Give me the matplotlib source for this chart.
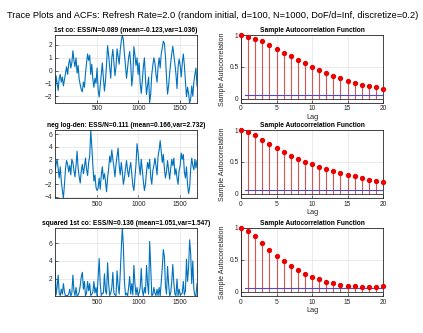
import numpy as np
import matplotlib
matplotlib.use("Agg")
import matplotlib.pyplot as plt

plt.rcParams['font.family'] = ['Liberation Sans', 'DejaVu Sans']

suptitle = "Trace Plots and ACFs: Refresh Rate=2.0 (random initial, d=100, N=1000, DoF/d=Inf, discretize=0.2)"
trace_titles = ["1st co: ESS/N=0.089 (mean=-0.123,var=1.036)",
                "neg log-den: ESS/N=0.111 (mean=0.166,var=2.732)",
                "squared 1st co: ESS/N=0.136 (mean=1.051,var=1.547)"]
acf_title = "Sample Autocorrelation Function"
n_iter = 1700

first_co = [
    -2.0, -0.4, -1.0, -1.55, -0.6, -0.3, -0.9, -0.5,
    -1.2, -0.7, -0.2, 0.3, -0.3, 0.5, 0.9, 0.2,
    0.6, 1.55, 0.8, 0.3, 1.0, -0.2, 0.4, -0.7,
    -1.1, -1.5, -1.65, -0.9, -1.3, -0.2, 0.6, 1.3,
    0.8, 1.2, -0.3, 0.5, -0.7, -1.3, -0.6, -1.0,
    0.2, -1.5, -2.07, -1.2, -0.3, 0.6, -0.6, -1.6,
    -0.8, 0.5, 1.95, 1.2, 0.3, -0.6, 1.0, 1.65,
    0.6, -0.4, 0.3, 1.7, 1.1, 0.5, 1.6, 2.3,
    2.78, 2.4, 1.3, 0.4, -0.6, 0.2, 1.0, 1.5,
    0.5, -1.2, -0.4, 1.87, 1.2, 0.4, 1.0, -0.3,
    0.6, -1.0, -1.78, -0.8, 0.3, 1.0, -0.6, -1.87,
    -1.2, -0.5, -2.49, -1.82, -0.3, 0.4, 1.0, 0.6,
    -0.3, -0.9, 0.3, 1.0, 0.2, 1.3, 1.8, 2.3,
    2.12, 1.1, -0.5, -1.84, -1.2, -0.2, 0.6, 1.3,
    1.9, 1.2, 0.5, -0.3, -1.4, 0.3, 0.9, 0.4,
    -0.5, 0.6, 1.3, 0.4, -0.8, -2.05, -1.3, -1.8,
    -2.53, -2.2, -1.2, -2.0, -0.9, -0.3, 0.2, -1.2,
]

neg_log_den = [
    0.0, 1.2, 2.0, 0.5, -1.0, 0.8, -1.5, -3.0,
    -4.2, -2.0, 0.5, 1.8, 1.2, 0.0, 1.0, -0.5,
    2.0, 1.5, 0.2, -0.8, 1.0, 3.3, 0.5, -0.8,
    -1.8, 0.2, 1.2, -0.3, 0.8, 2.2, 0.4, -0.6,
    1.5, 2.5, 6.7, 4.0, 1.0, -1.5, -0.5, -2.5,
    -3.0, -2.6, -1.0, -2.8, -0.5, 0.8, -1.2, -0.3,
    -1.5, -3.2, -1.0, 0.5, 2.5, 1.5, 3.5, 2.0,
    0.8, -0.8, 1.2, 2.5, 3.8, 1.0, -0.5, 1.5,
    0.0, -2.0, -1.0, 0.5, 1.8, 0.2, -0.8, 0.6,
    1.5, -0.3, -2.2, -3.0, -1.0, 1.2, 4.5, 3.0,
    1.0, -0.5, 2.0, 0.2, -1.5, -3.0, -2.0, 0.0,
    1.5, 0.5, 2.0, -0.8, -2.0, 0.2, 1.0, 2.2,
    1.0, -0.5, 2.5, 3.5, 5.0, 3.2, 1.5, 2.8,
    0.5, -1.0, 0.0, 1.8, 0.3, -1.2, 0.5, 2.0,
    1.0, 2.2, -0.5, 0.5, -1.0, -2.0, 0.2, 1.0,
    3.0, 2.0, 2.8, 0.0, -1.0, 0.8, -2.0, -3.5,
    -2.5, 0.5, 2.2, 1.0, 0.3, 2.0, 0.6, 1.8,
]

sq_first_co = [
    4.0, 0.16, 1.0, 2.4, 0.36, 0.09, 0.81, 0.25,
    1.44, 0.49, 0.04, 0.09, 0.09, 0.25, 0.81, 0.04,
    0.36, 2.4, 0.64, 0.09, 1.0, 0.04, 0.16, 0.49,
    1.21, 2.25, 2.72, 0.81, 1.69, 0.04, 0.36, 1.69,
    0.64, 1.44, 0.09, 0.25, 0.49, 1.69, 0.36, 1.0,
    0.04, 2.25, 4.28, 1.44, 0.09, 0.36, 0.36, 2.56,
    0.64, 0.25, 3.8, 1.44, 0.09, 0.36, 1.0, 2.72,
    0.36, 0.16, 0.09, 2.89, 1.21, 0.25, 2.56, 5.29,
    7.73, 5.76, 1.69, 0.16, 0.36, 0.04, 1.0, 2.25,
    0.25, 1.44, 0.16, 3.5, 1.44, 0.16, 1.0, 0.09,
    0.36, 1.0, 3.17, 0.64, 0.09, 1.0, 0.36, 3.5,
    1.44, 0.25, 6.2, 3.31, 0.09, 0.16, 1.0, 0.36,
    0.09, 0.81, 0.09, 1.0, 0.04, 1.69, 3.24, 5.29,
    4.49, 1.21, 0.25, 3.39, 1.44, 0.04, 0.36, 1.69,
    3.61, 1.44, 0.25, 0.09, 1.96, 0.09, 0.81, 0.16,
    0.25, 0.36, 1.69, 0.16, 0.64, 4.2, 1.69, 3.24,
    6.4, 4.84, 1.44, 4.0, 0.81, 0.09, 0.04, 1.44,
]

lags = list(range(21))
acf_first_co = [1.0, 0.974, 0.94, 0.90, 0.84, 0.786, 0.72, 0.67, 0.61, 0.556, 0.50,
                0.454, 0.40, 0.357, 0.32, 0.28, 0.25, 0.22, 0.20, 0.18, 0.158]
acf_neg_log_den = [1.0, 0.974, 0.92, 0.85, 0.786, 0.714, 0.653, 0.597, 0.546, 0.50, 0.46,
                   0.423, 0.388, 0.357, 0.33, 0.30, 0.275, 0.25, 0.224, 0.204, 0.184]
acf_sq_first_co = [1.0, 0.96, 0.867, 0.76, 0.658, 0.56, 0.48, 0.403, 0.342, 0.286, 0.23,
                   0.194, 0.158, 0.133, 0.112, 0.097, 0.087, 0.082, 0.077, 0.077, 0.087]
conf_bound = 0.0632

trace_yticks = [[-2, -1, 0, 1, 2], [-4, -2, 0, 2, 4, 6], [2, 4, 6]]
trace_xticks = [500, 1000, 1500]
acf_xticks = [0, 5, 10, 15, 20]
acf_yticks = [0, 0.5, 1]

traces = [first_co, neg_log_den, sq_first_co]
acfs = [acf_first_co, acf_neg_log_den, acf_sq_first_co]

W, H = 423, 333
fig = plt.figure(figsize=(W / 100, H / 100), dpi=100)
fig.patch.set_facecolor('white')

axc = '#262626'
gridc = '#e3e3e3'
tick_fs = 4.8
blue = '#0072BD'

tops = [35, 130, 228]
ah = 68
lx, rx, aw = 55, 241, 142


def style(ax):
    ax.tick_params(direction='in', length=2, width=0.5, labelsize=tick_fs,
                   colors=axc, pad=1.8, top=False, right=False)
    for s in ax.spines.values():
        s.set_linewidth(0.6)
        s.set_color(axc)
    ax.grid(True, color=gridc, linewidth=0.5)
    ax.set_axisbelow(True)


for i in range(3):
    y0 = 1 - (tops[i] + ah) / H
    axL = fig.add_axes([lx / W, y0, aw / W, ah / H])
    vals = np.array(traces[i])
    x = np.linspace(1, n_iter, len(vals))
    axL.plot(x, vals, color=blue, linewidth=0.8)
    axL.set_xlim(1, n_iter)
    axL.set_ylim(vals.min(), vals.max())
    axL.set_xticks(trace_xticks)
    axL.set_yticks(trace_yticks[i])
    style(axL)
    axL.set_title(trace_titles[i], fontsize=4.75, fontweight='bold', pad=2)

    axR = fig.add_axes([rx / W, y0, aw / W, ah / H])
    a = acfs[i]
    axR.vlines(lags, 0, a, color='#d9534f', linewidth=0.8)
    axR.plot(lags, a, 'o', color='#ee0000', markersize=2.8, clip_on=False, zorder=5)
    axR.plot([0, 20], [0, 0], color='#333333', linewidth=0.6)
    axR.plot([0.5, 20], [conf_bound, conf_bound], color='#4b4bd0', linewidth=0.8)
    axR.plot([0.5, 20], [-conf_bound, -conf_bound], color='#4b4bd0', linewidth=0.8)
    axR.set_xlim(0, 20)
    axR.set_ylim(-0.066, 1.0)
    axR.set_xticks(acf_xticks)
    axR.set_yticks(acf_yticks)
    axR.set_yticklabels(['0', '0.5', '1'])
    style(axR)
    axR.set_title(acf_title, fontsize=4.75, fontweight='bold', pad=2)
    axR.set_xlabel('Lag', fontsize=5.3, color=axc, labelpad=1)
    axR.set_ylabel('Sample Autocorrelation', fontsize=5.1, color=axc, labelpad=2)

fig.text(0.503, 1 - 15 / H, suptitle, ha='center', va='center', fontsize=6.7, color='black')

fig.savefig('out.png', dpi=100, facecolor='white')
